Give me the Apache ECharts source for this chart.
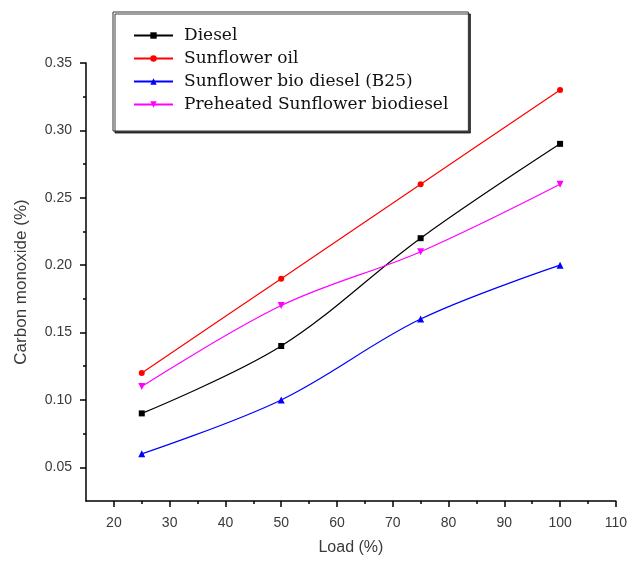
<!DOCTYPE html>
<html>
<head>
<meta charset="utf-8">
<title>Carbon monoxide vs load</title>
<script src="https://cdn.jsdelivr.net/npm/echarts@6/dist/echarts.min.js"></script>
<style>
  html, body { margin: 0; padding: 0; background: #fff; }
  #chart { width: 630px; height: 565px; }
</style>
</head>
<body>
<div id="chart"></div>
<script>
// Engine load (%) at which CO was measured
const loads = [25, 50, 75, 100];

// Carbon monoxide emission (%) per fuel
const diesel = [0.09, 0.14, 0.22, 0.29];
const sunflowerOil = [0.12, 0.19, 0.26, 0.33];
const sunflowerB25 = [0.06, 0.10, 0.16, 0.20];
const preheatedBiodiesel = [0.11, 0.17, 0.21, 0.26];

const seriesNames = [
  'Diesel',
  'Sunflower oil',
  'Sunflower bio diesel (B25)',
  'Preheated Sunflower biodiesel'
];

// Axis ticks
const xTicks = [20, 30, 40, 50, 60, 70, 80, 90, 100, 110];
const xMinorTicks = [25, 35, 45, 55, 65, 75, 85, 95, 105];
const yTicks = [0.05, 0.10, 0.15, 0.20, 0.25, 0.30, 0.35];
const yMinorTicks = [0.075, 0.125, 0.175, 0.225, 0.275, 0.325];

const pair = (ys) => loads.map((x, i) => [x, ys[i]]);

const axisFont = {
  fontFamily: 'Liberation Sans, Arial, sans-serif',
  fontSize: 14,
  color: '#3a3a3a'
};

function makeSeries(name, data, color, symbol, rotate) {
  return {
    name: name,
    type: 'line',
    data: pair(data),
    smooth: 0.35,
    symbol: symbol,
    symbolRotate: rotate || 0,
    symbolSize: symbol === 'rect' ? 6 : (symbol === 'circle' ? 6 : 7),
    showSymbol: true,
    lineStyle: { color: color, width: 1.2 },
    itemStyle: { color: color },
    emphasis: { disabled: true },
    animation: false
  };
}

const chart = echarts.init(document.getElementById('chart'), null, { renderer: 'canvas' });

chart.setOption({
  backgroundColor: '#ffffff',
  animation: false,
  grid: { left: 86, right: 13, top: 63, bottom: 64, containLabel: false },
  legend: {
    orient: 'vertical',
    left: 113,
    top: 12,
    data: seriesNames,
    itemWidth: 39,
    itemHeight: 8,
    itemGap: 4,
    padding: [14, 20, 17, 20],
    backgroundColor: '#ffffff',
    borderColor: '#333333',
    borderWidth: 1,
    shadowColor: 'rgba(0,0,0,0.75)',
    shadowOffsetX: 2,
    shadowOffsetY: 2,
    shadowBlur: 0,
    textStyle: {
      fontFamily: 'DejaVu Serif, serif',
      fontSize: 17,
      color: '#111',
      lineHeight: 19,
      padding: [0, 0, 0, 6]
    }
  },
  xAxis: [
    {
      type: 'value',
      min: 15,
      max: 110,
      position: 'bottom',
      splitLine: { show: false },
      axisLine: { show: true, onZero: false, lineStyle: { color: '#000', width: 1.5 } },
      axisTick: { show: true, customValues: xTicks, length: 6, lineStyle: { color: '#000', width: 1.5 } },
      axisLabel: Object.assign({ customValues: xTicks, margin: 15 }, axisFont),
      name: 'Load (%)',
      nameLocation: 'middle',
      nameGap: 39,
      nameTextStyle: { fontFamily: 'Liberation Sans, Arial, sans-serif', fontSize: 16, color: '#3a3a3a' }
    },
    {
      type: 'value',
      min: 15,
      max: 110,
      position: 'bottom',
      splitLine: { show: false },
      axisLine: { show: false, onZero: false },
      axisTick: { show: true, customValues: xMinorTicks, length: 3, lineStyle: { color: '#000', width: 1.5 } },
      axisLabel: { show: false }
    }
  ],
  yAxis: [
    {
      type: 'value',
      min: 0.025,
      max: 0.35,
      position: 'left',
      splitLine: { show: false },
      axisLine: { show: true, onZero: false, lineStyle: { color: '#000', width: 1.5 } },
      axisTick: { show: true, customValues: yTicks, length: 6, lineStyle: { color: '#000', width: 1.5 } },
      axisLabel: Object.assign({
        customValues: yTicks,
        margin: 14,
        formatter: (v) => v.toFixed(2)
      }, axisFont),
      name: 'Carbon monoxide (%)',
      nameLocation: 'middle',
      nameGap: 56,
      nameTextStyle: { fontFamily: 'Liberation Sans, Arial, sans-serif', fontSize: 17, color: '#3a3a3a' }
    },
    {
      type: 'value',
      min: 0.025,
      max: 0.35,
      position: 'left',
      splitLine: { show: false },
      axisLine: { show: false, onZero: false },
      axisTick: { show: true, customValues: yMinorTicks, length: 3, lineStyle: { color: '#000', width: 1.5 } },
      axisLabel: { show: false }
    }
  ],
  series: [
    makeSeries(seriesNames[0], diesel, '#000000', 'rect'),
    makeSeries(seriesNames[1], sunflowerOil, '#ff0000', 'circle'),
    makeSeries(seriesNames[2], sunflowerB25, '#0000ff', 'triangle'),
    makeSeries(seriesNames[3], preheatedBiodiesel, '#ff00ff', 'triangle', 180)
  ]
});
</script>
</body>
</html>
